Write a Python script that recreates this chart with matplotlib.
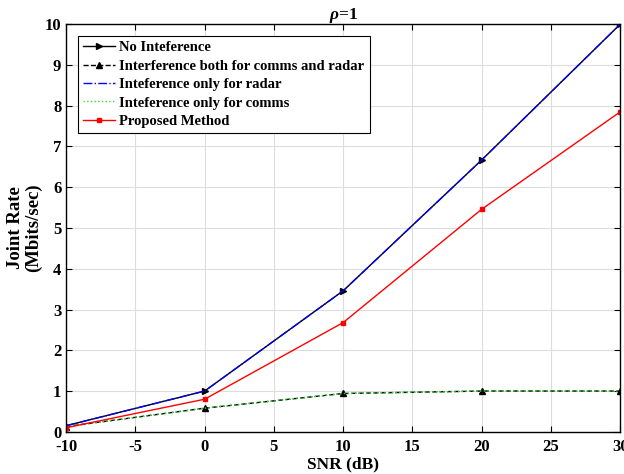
import matplotlib
matplotlib.use("Agg")
import matplotlib.pyplot as plt

# SNR values and joint rates
snr_db = [-10, 0, 10, 20, 30]
rate_no_interf = [0.15, 1.0, 3.46, 6.67, 10.0]
rate_both_interf = [0.13, 0.58, 0.94, 1.0, 1.0]
rate_radar_only = [0.15, 1.0, 3.46, 6.67, 10.0]
rate_comms_only = [0.13, 0.58, 0.94, 1.0, 1.0]
rate_proposed = [0.10, 0.80, 2.68, 5.46, 7.85]

plt.rcParams['font.family'] = ['Liberation Serif', 'DejaVu Serif']
plt.rcParams['font.weight'] = 'bold'
plt.rcParams['axes.unicode_minus'] = False
plt.rcParams['mathtext.fontset'] = 'custom'
plt.rcParams['mathtext.it'] = 'Liberation Serif:italic:bold'
plt.rcParams['mathtext.rm'] = 'Liberation Serif:bold'

fig = plt.figure(figsize=(6.24, 4.74), dpi=100)
ax = fig.add_axes([0.106, 0.089, 0.888, 0.860])

ax.plot(snr_db, rate_no_interf, color='black', linestyle='-', marker='>',
        markersize=5, linewidth=1, label='No Inteference')
ax.plot(snr_db, rate_both_interf, color='black', linestyle='--', marker='^',
        markersize=5, linewidth=1, label='Interference both for comms and radar')
ax.plot(snr_db, rate_radar_only, color='blue', linestyle='-.', linewidth=1,
        label='Inteference only for radar')
ax.plot(snr_db, rate_comms_only, color='#33dd33', linestyle=':', linewidth=1,
        label='Inteference only for comms')
ax.plot(snr_db, rate_proposed, color='red', linestyle='-', marker='s',
        markersize=3.5, linewidth=1, label='Proposed Method')

ax.set_xlim(-10, 30)
ax.set_ylim(0, 10)
ax.set_xticks(range(-10, 31, 5))
ax.set_yticks(range(0, 11))
ax.grid(True, color='#dddddd', linewidth=0.8)
ax.tick_params(direction='in', labelsize=12, length=4, top=True, right=True)
ax.tick_params(axis='x', pad=5)
for lbl in ax.get_xticklabels() + ax.get_yticklabels():
    lbl.set_fontweight('bold')
for sp in ax.spines.values():
    sp.set_linewidth(1)

ax.set_xlabel('SNR (dB)', fontsize=12.5, fontweight='bold', labelpad=1)
ax.set_ylabel('Joint Rate\n(Mbits/sec)', fontsize=13.5, fontweight='bold',
              linespacing=1.1)
ax.yaxis.set_label_coords(-0.043, 0.5)
ax.set_title(r'$\rho$=1', fontsize=12.5, fontweight='bold', pad=4)

leg = ax.legend(loc='upper left', fontsize=10.5, fancybox=False, framealpha=1,
                edgecolor='black', handlelength=2.2, handletextpad=0.3,
                borderpad=0.35, labelspacing=0.36, borderaxespad=0.8)
leg.get_frame().set_linewidth(0.8)
for t in leg.get_texts():
    t.set_fontweight('bold')

fig.savefig('out.png', dpi=100)
